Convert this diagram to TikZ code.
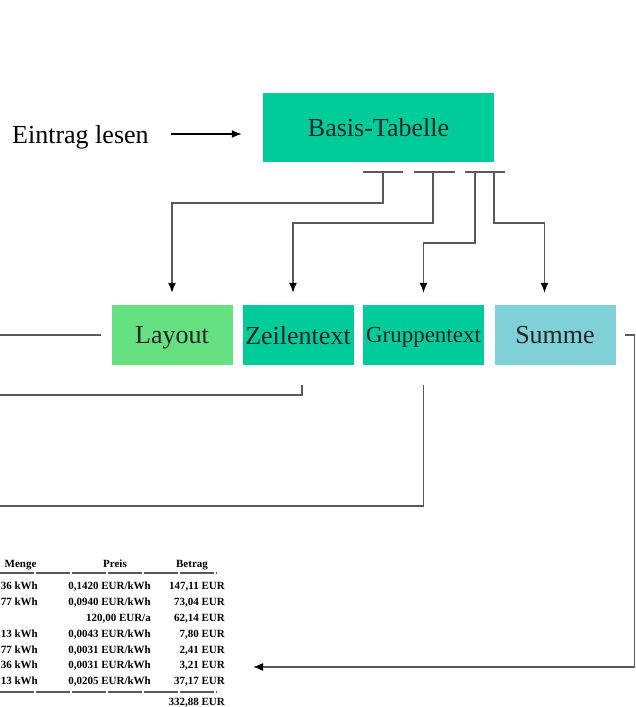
\documentclass[tikz,border=0pt]{standalone}
\usepackage{fontspec}
\setmainfont{Liberation Serif}
\usetikzlibrary{arrows.meta}
\tikzset{>={Latex[length=10pt, width=8pt, color=black]}}
\definecolor{basiscol}{RGB}{0,204,153}
\definecolor{layoutcol}{RGB}{102,224,128}
\definecolor{summecol}{RGB}{128,208,216}
\definecolor{linecol}{RGB}{90,90,90}
\def\linethickness{1.5pt}
\tikzset{
  box/.style={draw=none, minimum height=60pt, text depth=0pt, inner sep=0pt, text=black!85, font=\fontsize{26}{30}\selectfont},
  conn/.style={linecol, line width=\linethickness},
  tabtext/.style={inner sep=0pt, text depth=0pt, text height=8pt, font=\fontsize{11}{13}\selectfont\bfseries},
  tabrule/.style={linecol, line width=1.6pt, dash pattern=on 34pt off 2pt},
}

\begin{document}
\begin{tikzpicture}[x=1pt, y=-1pt]
    \clip (0,0) rectangle (636,707);
    \node[anchor=west, inner sep=0pt, text depth=0pt, font=\fontsize{26}{30}\selectfont] at (12,134) (eintrag) {Eintrag lesen};
    \node[box, fill=basiscol, minimum width=231pt, minimum height=69pt] at (378.5,127.5) (basis) {Basis-Tabelle};
    \path (eintrag.east) ++(22,0) coordinate (ea);
    \path (ea -| basis.west) ++(-21,0) coordinate (eb);
    \draw[->, line width=1.4pt] (ea) -- (eb);

    % second row
    \node[box, fill=layoutcol, minimum width=121pt] at (172,335) (layout) {Layout};
    \node[box, fill=basiscol, minimum width=111pt] at (298,335) (zeile) {Zeilentext};
    \node[box, fill=basiscol, minimum width=121pt, font=\fontsize{23}{27}\selectfont] at (423.5,335) (gruppe) {Gruppentext};
    \node[box, fill=summecol, minimum width=121pt] at (555,335) (summe) {Summe};

    % junctions below Basis-Tabelle
    \coordinate (j1) at (383,172);
    \coordinate (j2) at (433,172);
    \coordinate (j3) at (475,172);
    \coordinate (j4) at (494,172);
    \draw[conn] ([xshift=-20pt]j1) -- ([xshift=20pt]j1);
    \draw[conn] ([xshift=-19pt]j2) -- ([xshift=22pt]j2);
    \draw[conn] ([xshift=-10pt]j3) -- ([xshift=11pt]j4);
    \draw[conn, ->] (j1) -- ++(0,31) -| ([yshift=12pt]layout.north);
    \draw[conn, ->] (j2) -- ++(0,51) -| ([xshift=-5pt, yshift=12pt]zeile.north);
    \draw[conn, ->] (j3) -- ++(0,71) -| ([yshift=12pt]gruppe.north);
    \draw[conn, ->] (j4) -- ++(0,51) -| ([xshift=-10.5pt, yshift=12pt]summe.north);

    % lines out to the left
    \coordinate (outl) at (0,335);
    \coordinate (outz) at (0,395);
    \coordinate (outg) at (0,506);
    \draw[conn] ([xshift=-10pt]layout.west) -- (outl);
    \draw[conn] ([xshift=4pt, yshift=-20pt]zeile.south) |- (outz);
    \draw[conn] ([yshift=-20pt]gruppe.south) |- (outg);

    % table
    \node[tabtext] at (20.5,563) (hmenge) {Menge};
    \node[tabtext] at (115,563) (hpreis) {Preis};
    \node[tabtext] at (192,563) (hbetrag) {Betrag};
    \draw[tabrule] (0,573) -- (217,573);
    \node[tabtext, anchor=east] at (38,585) (m1) {36 kWh};
    \node[tabtext, anchor=east] at (151,585) (p1) {0,1420 EUR/kWh};
    \node[tabtext, anchor=east] at (225,585) (b1) {147,11 EUR};
    \node[tabtext, anchor=east] at (38,601) (m2) {77 kWh};
    \node[tabtext, anchor=east] at (151,601) (p2) {0,0940 EUR/kWh};
    \node[tabtext, anchor=east] at (225,601) (b2) {73,04 EUR};
    \node[tabtext, anchor=east] at (151,617) (p3) {120,00 EUR/a};
    \node[tabtext, anchor=east] at (225,617) (b3) {62,14 EUR};
    \node[tabtext, anchor=east] at (38,633) (m4) {13 kWh};
    \node[tabtext, anchor=east] at (151,633) (p4) {0,0043 EUR/kWh};
    \node[tabtext, anchor=east] at (225,633) (b4) {7,80 EUR};
    \node[tabtext, anchor=east] at (38,649) (m5) {77 kWh};
    \node[tabtext, anchor=east] at (151,649) (p5) {0,0031 EUR/kWh};
    \node[tabtext, anchor=east] at (225,649) (b5) {2,41 EUR};
    \node[tabtext, anchor=east] at (38,664) (m6) {36 kWh};
    \node[tabtext, anchor=east] at (151,664) (p6) {0,0031 EUR/kWh};
    \node[tabtext, anchor=east] at (225,664) (b6) {3,21 EUR};
    \node[tabtext, anchor=east] at (38,680) (m7) {13 kWh};
    \node[tabtext, anchor=east] at (151,680) (p7) {0,0205 EUR/kWh};
    \node[tabtext, anchor=east] at (225,680) (b7) {37,17 EUR};
    \draw[tabrule] (0,692) -- (217,692);
    \node[tabtext, anchor=east] at (225,701.5) (total) {332,88 EUR};

    % Summe back to the table
    \coordinate (tabin) at (253,667);
    \draw[conn, ->] ([xshift=9pt]summe.east) -- ++(10,0) |- (tabin);
\end{tikzpicture}
\end{document}
